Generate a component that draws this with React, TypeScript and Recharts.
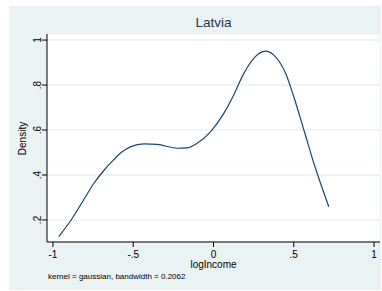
import { LineChart, Line, XAxis, YAxis, CartesianGrid } from 'recharts'

// points
const logIncome = [
  -0.964, -0.887, -0.808, -0.746, -0.683, -0.621, -0.569, -0.517, -0.434, -0.351, -0.226, -0.164,
  -0.102, -0.019, 0.064, 0.126, 0.189, 0.251, 0.324, 0.376, 0.449, 0.5, 0.563, 0.625, 0.718,
]
const density = [
  0.126, 0.2, 0.29, 0.362, 0.42, 0.468, 0.503, 0.525, 0.538, 0.536, 0.519, 0.521,
  0.541, 0.592, 0.674, 0.756, 0.852, 0.919, 0.951, 0.933, 0.852, 0.748, 0.6, 0.452, 0.259,
]
const xTicks = [-1, -0.5, 0, 0.5, 1]
const yTicks = [0.2, 0.4, 0.6, 0.8, 1]

const data = logIncome.map((x, i) => ({ x, y: density[i] }))

const fmt = (v: number) => {
  if (v === 0) return '0'
  const s = String(v)
  return s.replace(/^(-?)0\./, '$1.')
}

const FONT = 'Liberation Sans, Arial, sans-serif'

const YTick = ({ x, y, payload }: any) => (
  <text
    x={x + 1}
    y={y}
    transform={`rotate(-90, ${x + 1}, ${y})`}
    textAnchor="middle"
    fontSize={10}
    fontFamily={FONT}
    fill="#000"
  >
    {fmt(payload.value)}
  </text>
)

const XTick = ({ x, y, payload }: any) => (
  <text x={x} y={y + 9} textAnchor="middle" fontSize={10} fontFamily={FONT} fill="#000">
    {fmt(payload.value)}
  </text>
)

export default function App() {
  return (
    <div style={{ position: 'absolute', left: 0, top: 0, width: 382, height: 291, background: '#fff' }}>
      <div style={{ position: 'absolute', left: 9, top: 6, width: 372, height: 284, background: '#eaf2f3' }} />
      <div
        style={{
          position: 'absolute', left: 47, width: 333, top: 15, textAlign: 'center',
          fontFamily: FONT, fontSize: 13.5, color: '#24364f', lineHeight: '16px',
        }}
      >
        Latvia
      </div>
      <div style={{ position: 'absolute', left: 0, top: 0 }}>
        <LineChart width={382} height={291} data={data} margin={{ top: 34, right: 2, bottom: 19, left: 9 }}>
          <CartesianGrid vertical={false} fill="#fff" stroke="#eaf2f3" strokeWidth={1.5} />
          <XAxis
            type="number"
            dataKey="x"
            domain={[-1.037, 1.037]}
            ticks={xTicks}
            tick={<XTick />}
            tickSize={5}
            height={30}
            stroke="#000"
            allowDataOverflow
          />
          <YAxis
            type="number"
            domain={[0.102, 1.027]}
            ticks={yTicks}
            tick={<YTick />}
            tickSize={5}
            width={38}
            stroke="#000"
            allowDataOverflow
          />
          <Line
            type="monotone"
            dataKey="y"
            stroke="#1a476f"
            strokeWidth={1.2}
            dot={false}
            isAnimationActive={false}
          />
        </LineChart>
      </div>
      <div
        style={{
          position: 'absolute', left: 18, top: 121, width: 10, height: 34,
          display: 'flex', alignItems: 'center', justifyContent: 'center',
        }}
      >
        <div style={{ transform: 'rotate(-90deg)', fontFamily: FONT, fontSize: 10, whiteSpace: 'nowrap' }}>
          Density
        </div>
      </div>
      <div
        style={{
          position: 'absolute', left: 47, width: 333, top: 259, textAlign: 'center',
          fontFamily: FONT, fontSize: 10, lineHeight: '12px',
        }}
      >
        logIncome
      </div>
      <div
        style={{
          position: 'absolute', left: 48, top: 272, fontFamily: FONT, fontSize: 8, lineHeight: '10px',
          whiteSpace: 'nowrap',
        }}
      >
        kernel = gaussian, bandwidth = 0.2062
      </div>
    </div>
  )
}
